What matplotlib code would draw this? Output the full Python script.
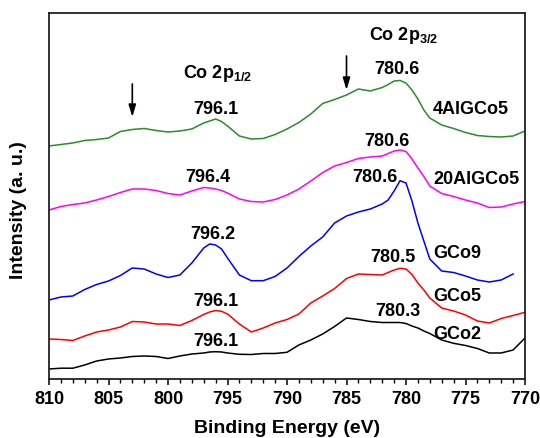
import numpy as np
import matplotlib
matplotlib.use("Agg")
import matplotlib.pyplot as plt
from matplotlib.ticker import MultipleLocator

plt.rcParams['font.family'] = ['Liberation Sans', 'DejaVu Sans']
plt.rcParams['font.weight'] = 'bold'
plt.rcParams['mathtext.fontset'] = 'custom'
plt.rcParams['mathtext.rm'] = 'Liberation Sans:bold'
plt.rcParams['mathtext.it'] = 'Liberation Sans:bold'

# Binding energy grid (eV), finer around the Co 2p peaks
binding_energy = [810, 809, 808, 807, 806, 805, 804, 803, 802, 801, 800, 799, 798,
                  797, 796.5, 796, 795.5, 795, 794, 793, 792, 791, 790, 789, 788,
                  787, 786, 785, 784, 783, 782, 781.5, 781, 780.5, 780, 779.5, 779,
                  778.5, 778, 777, 776, 775, 774, 773, 772, 771, 770]

# Offset XPS intensities (a. u.)
i_4algco5 = [233, 234.5, 236, 238.5, 239.5, 241, 247.5, 249.5, 250.5, 248.5, 247, 248, 250,
             256, 258, 260, 257.5, 253, 243, 240, 240.5, 244.5, 250, 256.5, 265,
             275.5, 279.5, 284, 290, 288, 291.5, 294.5, 298, 298.5, 296, 289, 280,
             269, 261, 254, 250.5, 246.5, 243.5, 242.5, 242, 243, 248]
i_20algco5 = [169, 172.5, 174.5, 176, 179, 182.5, 186.5, 190, 190, 188.5, 185.5, 184, 188,
              191.5, 191, 190, 188.5, 186, 180, 177.5, 177, 179.5, 184, 190, 198,
              206.5, 213, 216.5, 220.5, 222, 223, 225.5, 228, 229, 227.5, 220, 211,
              202.5, 193, 185.5, 182.5, 179, 176, 171.5, 172, 175, 177.5]
i_gco9 = [79, 82, 83, 89.5, 94.5, 98, 103.5, 111, 110, 105, 101.5, 104, 116,
          131, 135, 134, 130, 121, 104, 98.3, 98.3, 102.5, 111, 122.5, 133,
          142, 156, 163, 167, 170, 175, 179, 188, 198.3, 196, 178, 156,
          138, 120, 108, 106.5, 103, 99, 97, 99, 105, np.nan]
i_gco5 = [40, 39.5, 38.5, 43, 47, 49, 52, 57.5, 57, 55, 55, 53.5, 58.5,
          64.5, 67, 68.5, 67.7, 65, 55, 47, 51, 56, 59.5, 65, 76,
          83, 90.5, 100.5, 105, 104.5, 104, 106.5, 109, 110.7, 110, 104.5, 96,
          89, 81, 71, 68, 64, 58, 56, 60.5, 63.5, 66.7]
i_gco2 = [10, 10.8, 10.8, 14, 18, 20, 21, 22.5, 23, 22.5, 20.5, 23, 25,
          26, 27, 27.3, 27, 26, 24.7, 24.5, 25.5, 25.5, 26.7, 34, 39,
          45, 52.5, 61, 59.5, 57.5, 56.5, 56.5, 56.5, 56.5, 55.5, 53, 51,
          48, 45.5, 39, 35.7, 33.5, 30.5, 26, 26, 29, 41]

sample_names = ['4AlGCo5', '20AlGCo5', 'GCo9', 'GCo5', 'GCo2']
sample_colors = ['#2a8c2a', '#ff00ff', '#0000ff', '#ff0000', '#000000']
series = [i_4algco5, i_20algco5, i_gco9, i_gco5, i_gco2]

# Peak positions (eV) of Co 2p1/2 and Co 2p3/2 for each sample
peak_2p12 = [796.1, 796.4, 796.2, 796.1, 796.1]
peak_2p32 = [780.6, 780.6, 780.6, 780.5, 780.3]

# Label placement (layout only)
lbl12_dx = [-0.13, 0.24, 0.02, -0.13, -0.13]
lbl12_y = [266.5, 198.5, 140.5, 73.5, 33.5]
lbl32_dx = [0.16, 1.0, 2.0, 0.6, 0.37]
lbl32_y = [305.5, 233.5, 198.5, 118.5, 63.5]
name_y = [265.5, 196.5, 121.5, 78.5, 40.5]

fig = plt.figure(figsize=(5.4, 4.39), dpi=100)
ax = fig.add_axes([49 / 540, 1 - 379.5 / 439, 476 / 540, 365.5 / 439])

for vals, col in zip(series, sample_colors):
    ax.plot(binding_energy, vals, color=col, lw=1.1)

fs = 13
for k in range(len(sample_names)):
    ax.text(peak_2p12[k] + lbl12_dx[k], lbl12_y[k], f"{peak_2p12[k]:.1f}",
            ha='center', va='baseline', fontsize=fs, fontweight='bold')
    ax.text(peak_2p32[k] + lbl32_dx[k], lbl32_y[k], f"{peak_2p32[k]:.1f}",
            ha='center', va='baseline', fontsize=fs, fontweight='bold')
    ax.text(777.73, name_y[k], sample_names[k], ha='left', va='baseline',
            fontsize=fs, fontweight='bold')

ax.text(798.74, 302, r'Co 2p$_{1/2}$', ha='left', va='baseline', fontsize=fs,
        fontweight='bold')
ax.text(783.1, 340, r'Co 2p$_{3/2}$', ha='left', va='baseline', fontsize=fs,
        fontweight='bold')

# Satellite markers
for xa, y0, y1 in [(803.0, 295, 262), (785.0, 323, 289)]:
    ax.annotate('', xy=(xa, y1), xytext=(xa, y0),
                arrowprops=dict(arrowstyle='-|>,head_width=0.18,head_length=0.6',
                                color='black', lw=1.2, shrinkA=0, shrinkB=0,
                                mutation_scale=12))

ax.set_xlim(810, 770)
ax.set_ylim(0.5, 366)
ax.xaxis.set_major_locator(MultipleLocator(5))
ax.xaxis.set_minor_locator(MultipleLocator(1))
ax.set_yticks([])
ax.tick_params(axis='x', which='major', direction='out', length=4.5, width=1.1,
               labelsize=13, pad=3.5, top=False)
ax.tick_params(axis='x', which='minor', direction='out', length=2.8, width=1.0,
               top=False)
for lab in ax.get_xticklabels():
    lab.set_fontweight('bold')
for sp in ax.spines.values():
    sp.set_linewidth(1.3)
    sp.set_color('#222222')

ax.set_xlabel('Binding Energy (eV)', fontsize=14, fontweight='bold', va='center')
ax.xaxis.set_label_coords(0.5, -0.1327)
ax.set_ylabel('Intensity (a. u.)', fontsize=14, fontweight='bold', va='center')
ax.yaxis.set_label_coords(-0.0641, 0.4637)

fig.savefig('out.png', dpi=100)
